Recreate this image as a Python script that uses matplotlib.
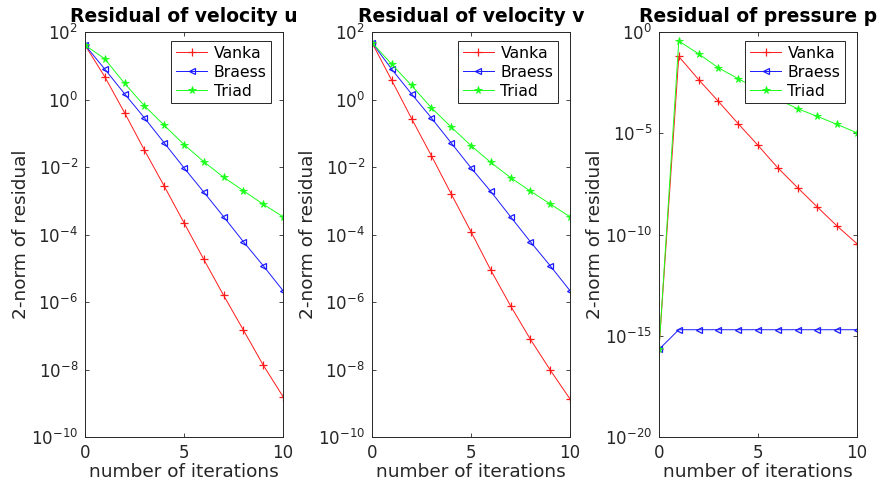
import numpy as np
import matplotlib
matplotlib.use("Agg")
import matplotlib.pyplot as plt
from matplotlib.ticker import NullLocator, FixedLocator

iterations = list(range(11))

# log10 of residuals
u_vanka = [1.615, 0.676, -0.39, -1.496, -2.563, -3.65, -4.735, -5.80, -6.83, -7.867, -8.80]
u_braess = [1.615, 0.904, 0.173, -0.54, -1.28, -2.02, -2.74, -3.47, -4.21, -4.92, -5.66]
u_triad = [1.615, 1.21, 0.48, -0.18, -0.76, -1.33, -1.84, -2.30, -2.70, -3.10, -3.47]

v_vanka = [1.69, 0.57, -0.56, -1.66, -2.79, -3.91, -5.05, -6.11, -7.10, -8.01, -8.87]
v_braess = [1.69, 0.90, 0.17, -0.54, -1.28, -2.02, -2.72, -3.47, -4.21, -4.92, -5.66]
v_triad = [1.69, 1.05, 0.42, -0.24, -0.81, -1.36, -1.86, -2.31, -2.71, -3.09, -3.47]

p_vanka = [-15.67, -1.20, -2.34, -3.42, -4.52, -5.59, -6.70, -7.68, -8.64, -9.58, -10.45]
p_braess = [-15.67, -14.70, -14.70, -14.70, -14.70, -14.70, -14.70, -14.70, -14.70, -14.70, -14.70]
p_triad = [-15.67, -0.44, -1.07, -1.76, -2.30, -2.82, -3.32, -3.78, -4.16, -4.56, -4.97]

titles = ["Residual of velocity u", "Residual of velocity v", "Residual of pressure p"]
series_names = ["Vanka", "Braess", "Triad"]
xlabel = "number of iterations"
ylabel = "2-norm of residual"

panels = [
    (u_vanka, u_braess, u_triad),
    (v_vanka, v_braess, v_triad),
    (p_vanka, p_braess, p_triad),
]
ylims = [(1e-10, 1e2), (1e-10, 1e2), (1e-20, 1e0)]
yticks = [[10.0**k for k in range(-10, 3, 2)],
          [10.0**k for k in range(-10, 3, 2)],
          [10.0**k for k in range(-20, 1, 5)]]

fig = plt.figure(figsize=(8.81, 4.86), dpi=100)
lefts = [0.0965, 0.4222, 0.748]
width = 0.2247
bottom = 0.1008
height = 0.833

gray = "#262626"
styles = [
    dict(color=(1, 0.1, 0.1), marker="+", markersize=6, markeredgewidth=0.9),
    dict(color=(0.1, 0.1, 1), marker="<", markersize=5, markerfacecolor="none", markeredgewidth=0.9),
    dict(color=(0.1, 1, 0.1), marker="*", markersize=5.5, markeredgewidth=0.6),
]

for i, (series, ylim, yt, title) in enumerate(zip(panels, ylims, yticks, titles)):
    ax = fig.add_axes([lefts[i], bottom, width, height])
    for data, name, st in zip(series, series_names, styles):
        ax.semilogy(iterations, 10.0 ** np.array(data), label=name, linewidth=0.7, **st)
    ax.set_ylim(*ylim)
    ax.set_xlim(0, 10)
    ax.yaxis.set_major_locator(FixedLocator(yt))
    ax.yaxis.set_minor_locator(NullLocator())
    ax.set_xticks([0, 5, 10])
    ax.tick_params(direction="in", which="both", top=True, right=True,
                   labelsize=12, colors=gray, length=3, width=0.6, pad=5)
    for sp in ax.spines.values():
        sp.set_color(gray)
        sp.set_linewidth(0.7)
    ax.set_title(title, fontsize=13.5, fontweight="bold", pad=7)
    ax.set_xlabel(xlabel, fontsize=13.3, color=gray, labelpad=1)
    ax.set_ylabel(ylabel, fontsize=13.3, color=gray, labelpad=1)
    leg = ax.legend(loc="upper right", bbox_to_anchor=(0.94, 0.978), fontsize=11.3,
                    handlelength=2.0, borderpad=0.3, labelspacing=0.25, handletextpad=0.4,
                    fancybox=False, framealpha=1, borderaxespad=0.0)
    leg.get_frame().set_edgecolor(gray)
    leg.get_frame().set_linewidth(0.7)

fig.savefig("out.png", dpi=100)
